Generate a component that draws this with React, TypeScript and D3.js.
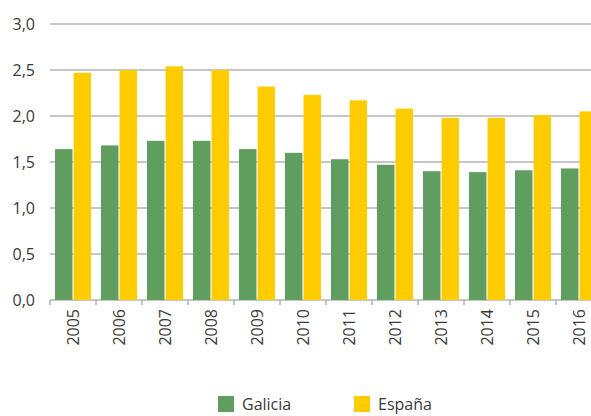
import React, { useEffect, useRef } from 'react';
import * as d3 from 'd3';

const years = ['2005', '2006', '2007', '2008', '2009', '2010', '2011', '2012', '2013', '2014', '2015', '2016'];
const galicia = [1.64, 1.68, 1.73, 1.73, 1.64, 1.6, 1.53, 1.47, 1.4, 1.39, 1.41, 1.43];
const espana = [2.47, 2.5, 2.54, 2.5, 2.32, 2.23, 2.17, 2.08, 1.98, 1.98, 2.01, 2.05];
const seriesNames = ['Galicia', 'España'];
const seriesColors = ['#5f9e5f', '#ffcc00'];
const yTicks = [0, 0.5, 1, 1.5, 2, 2.5, 3];

const W = 591;
const H = 416;
const FONT = '"Open Sans", "DejaVu Sans", sans-serif';

export default function App() {
    const ref = useRef<SVGSVGElement | null>(null);

    useEffect(() => {
        const svg = d3.select(ref.current).attr('width', W).attr('height', H);
        svg.selectAll('*').remove();

        const margin = { left: 50, top: 24 };
        const plotW = 552; // extends past the window edge, like the original
        const plotH = 276;

        const x = d3.scaleBand().domain(years).range([margin.left, margin.left + plotW]);
        const inner = d3
            .scaleBand()
            .domain(seriesNames)
            .range([5, x.bandwidth() - 5])
            .paddingInner(0.06);
        const y = d3.scaleLinear().domain([0, 3]).range([margin.top + plotH, margin.top]);

        // gridlines
        svg.append('g')
            .selectAll('line')
            .data(yTicks)
            .join('line')
            .attr('x1', margin.left)
            .attr('x2', W)
            .attr('y1', (d) => y(d))
            .attr('y2', (d) => y(d))
            .attr('stroke', '#b3b3b3')
            .attr('stroke-width', 1.6);

        // y labels
        svg.append('g')
            .selectAll('text')
            .data(yTicks)
            .join('text')
            .attr('x', 35)
            .attr('y', (d) => y(d))
            .attr('dy', '0.35em')
            .attr('text-anchor', 'end')
            .style('font-family', FONT)
            .style('font-size', '16px')
            .attr('fill', '#3a3a3a')
            .text((d) => d3.format('.1f')(d).replace('.', ','));

        // bars
        const data = years.map((yr, i) => ({ yr, vals: [galicia[i], espana[i]] }));
        const groups = svg
            .append('g')
            .selectAll('g')
            .data(data)
            .join('g')
            .attr('transform', (d) => `translate(${x(d.yr)},0)`);
        groups
            .selectAll('rect')
            .data((d) => d.vals.map((v, k) => ({ v, k })))
            .join('rect')
            .attr('x', (d) => inner(seriesNames[d.k])!)
            .attr('width', inner.bandwidth())
            .attr('y', (d) => y(d.v))
            .attr('height', (d) => y(0) - y(d.v))
            .attr('fill', (d) => seriesColors[d.k]);

        // x axis ticks at category boundaries
        const bounds = years.map((yr) => x(yr)!);
        svg.append('g')
            .selectAll('line')
            .data(bounds)
            .join('line')
            .attr('x1', (d) => d)
            .attr('x2', (d) => d)
            .attr('y1', y(0))
            .attr('y2', y(0) + 5)
            .attr('stroke', '#b3b3b3')
            .attr('stroke-width', 1.6);

        // year labels
        svg.append('g')
            .selectAll('text')
            .data(years)
            .join('text')
            .attr(
                'transform',
                (d) => `translate(${x(d)! + x.bandwidth() / 2 + 6},${y(0) + 9}) rotate(-90)`
            )
            .attr('text-anchor', 'end')
            .style('font-family', FONT)
            .style('font-size', '16px')
            .attr('fill', '#3a3a3a')
            .text((d) => d);

        // legend
        const legend = svg.append('g').attr('transform', 'translate(218,396)');
        seriesNames.forEach((name, i) => {
            const g = legend.append('g').attr('transform', `translate(${i * 136},0)`);
            g.append('rect').attr('width', 16).attr('height', 16).attr('fill', seriesColors[i]);
            g.append('text')
                .attr('x', 24)
                .attr('y', 14)
                .style('font-family', FONT)
                .style('font-size', '16px')
                .attr('fill', '#3a3a3a')
                .text(name);
        });
    }, []);

    return <svg ref={ref} style={{ position: 'absolute', left: 0, top: 0, background: '#fff' }} />;
}
